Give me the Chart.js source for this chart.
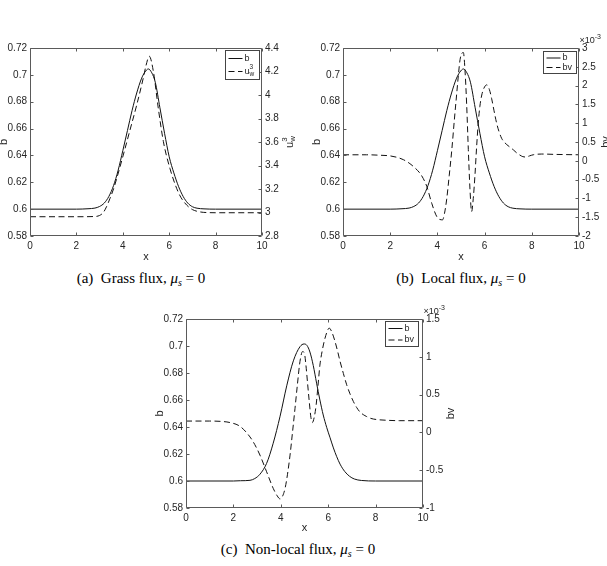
<!DOCTYPE html>
<html><head><meta charset="utf-8">
<script src="https://cdn.jsdelivr.net/npm/chart.js@4.4.1/dist/chart.umd.min.js"></script>
<style>
body{margin:0;width:607px;height:566px;background:#fff;position:relative;overflow:hidden}
canvas{position:absolute}
.cap{position:absolute;font-family:"Liberation Serif","Times New Roman",serif;font-size:15px;transform:translate(-50%,-50%);white-space:nowrap;color:#000}
.cap i{font-style:italic}
.cap sub{font-size:10px;vertical-align:-3px;line-height:0}
</style></head><body>
<canvas id="ca" width="303" height="236" style="left:-3px;top:28px;width:303px;height:236px"></canvas>
<canvas id="cb" width="297" height="236" style="left:310px;top:28px;width:297px;height:236px"></canvas>
<canvas id="cc" width="303" height="236" style="left:153px;top:299px;width:303px;height:236px"></canvas>
<div class="cap" style="left:141px;top:278px">(a)&nbsp; Grass flux, <i>μ<sub>s</sub></i> = 0</div>
<div class="cap" style="left:461px;top:278px">(b)&nbsp; Local flux, <i>μ<sub>s</sub></i> = 0</div>
<div class="cap" style="left:298px;top:549px">(c)&nbsp; Non-local flux, <i>μ<sub>s</sub></i> = 0</div>
<script>
// ---------- data ----------
// (a) Grass flux
const xA_b = [0,2,2.5,2.8,3.0,3.2,3.4,3.6,3.8,4.0,4.2,4.4,4.6,4.8,4.95,5.1,5.25,5.4,5.6,5.8,6.0,6.2,6.4,6.6,6.8,7.0,7.2,7.5,8,10];
const a_b  = [0.6,0.6,0.6003,0.6008,0.602,0.6045,0.6095,0.6175,0.629,0.6435,0.6585,0.6735,0.6865,0.697,0.702,0.7044,0.7015,0.6945,0.6755,0.6565,0.639,0.627,0.617,0.6095,0.6045,0.6018,0.6007,0.6002,0.6,0.6];
const xA_u = [0,2,2.8,3.0,3.16,3.3,3.45,3.6,3.74,4.02,4.31,4.6,4.88,5.0,5.14,5.32,5.53,5.75,6.03,6.32,6.5,6.75,7.0,7.33,7.7,8,10];
const a_u  = [2.964,2.964,2.966,2.975,3.0,3.05,3.121,3.2,3.291,3.489,3.702,3.915,4.142,4.25,4.33,4.198,3.887,3.603,3.376,3.206,3.13,3.064,3.025,3.005,2.999,2.998,2.998];
// (b) Local flux  (bv in units of 1e-3)
const xB_b = xA_b.slice();
const b_b  = [0.6,0.6,0.6003,0.6008,0.602,0.6045,0.6095,0.6175,0.629,0.6435,0.6585,0.6735,0.6865,0.697,0.702,0.7044,0.7015,0.6945,0.6755,0.6565,0.639,0.627,0.617,0.6095,0.6045,0.6018,0.6007,0.6002,0.6,0.6];
const xB_bv = [0,1,1.5,2.0,2.3,2.56,2.8,2.98,3.26,3.4,3.55,3.76,3.97,4.1,4.22,4.3,4.39,4.5,4.61,4.72,4.82,4.9,4.96,5.03,5.1,5.17,5.24,5.31,5.38,5.45,5.52,5.59,5.66,5.73,5.8,5.88,5.97,6.09,6.2,6.3,6.4,6.51,6.62,6.72,6.83,6.94,7.08,7.22,7.36,7.5,7.62,7.75,7.9,8.06,8.42,9,10];
const b_bv  = [0.16,0.16,0.15,0.13,0.09,0.03,-0.06,-0.15,-0.33,-0.47,-0.68,-1.13,-1.48,-1.56,-1.57,-1.4,-1.04,-0.4,0.29,1.1,1.8,2.35,2.69,2.85,2.88,2.4,1.5,0.3,-0.75,-1.35,-1.0,-0.4,0.35,1.0,1.45,1.75,1.93,2.02,1.9,1.65,1.33,1.0,0.76,0.6,0.5,0.43,0.36,0.29,0.21,0.15,0.11,0.1,0.13,0.16,0.18,0.17,0.16];
// (c) Non-local flux  (bv in units of 1e-3)
const xC_b = [0,2,2.3,2.7,2.9,3.12,3.4,3.68,3.97,4.25,4.53,4.81,4.98,5.1,5.23,5.37,5.51,5.65,5.79,5.94,6.08,6.22,6.36,6.5,6.7,6.9,7.1,7.4,8,10];
const c_b  = [0.6,0.6,0.6002,0.6005,0.6018,0.605,0.613,0.628,0.648,0.6705,0.689,0.6995,0.7015,0.7005,0.6955,0.6855,0.6725,0.66,0.6489,0.6395,0.632,0.6245,0.618,0.6125,0.607,0.6035,0.6015,0.6004,0.6,0.6];
const xC_bv = [0,1,1.5,1.86,2.28,2.7,2.9,3.12,3.4,3.68,3.85,3.97,4.08,4.18,4.28,4.39,4.5,4.6,4.7,4.81,4.92,5.0,5.06,5.13,5.2,5.27,5.33,5.41,5.49,5.57,5.65,5.76,5.86,5.95,6.04,6.15,6.29,6.4,6.5,6.64,6.78,6.92,7.06,7.2,7.34,7.48,7.62,7.8,8.05,8.5,9,10];
const c_bv  = [0.15,0.15,0.145,0.13,0.08,-0.06,-0.16,-0.3,-0.52,-0.74,-0.84,-0.88,-0.84,-0.74,-0.56,-0.3,0.02,0.32,0.63,0.94,1.07,1.04,0.89,0.65,0.41,0.2,0.13,0.2,0.36,0.62,0.89,1.1,1.24,1.33,1.38,1.33,1.2,1.07,0.94,0.78,0.63,0.51,0.41,0.33,0.27,0.235,0.21,0.185,0.17,0.16,0.155,0.155];
// axis ranges and tick steps
const xRange = [0, 10], xStep = 2;
const bRange = [0.58, 0.72], bStep = 0.02;
const uRange = [2.8, 4.4], uStep = 0.2;
const bvRangeB = [-2, 3], bvRangeC = [-1, 1.5], bvStep = 0.5;

// ---------- helpers ----------
const FONT = "'Liberation Sans', Arial, sans-serif";
const AX = '#262626';
Chart.defaults.font.family = FONT;
Chart.defaults.color = AX;

function pts(xs, ys){ return xs.map((x,i)=>({x:x, y:ys[i]})); }
function fmt(d){ return v => String(+(+v).toFixed(d)); }

function richWidth(ctx, groups){
  let w = 0;
  groups.forEach(g => { let m = 0; g.forEach(p => { ctx.font = p.s + 'px ' + FONT; m = Math.max(m, ctx.measureText(p.t).width); }); w += m; });
  return w;
}
function richDraw(ctx, groups, x, y){
  let cx = x;
  groups.forEach(g => { let m = 0; g.forEach(p => { ctx.font = p.s + 'px ' + FONT; ctx.fillText(p.t, cx, y + (p.dy||0)); m = Math.max(m, ctx.measureText(p.t).width); }); cx += m; });
}

const matlab = {
  id: 'matlab',
  afterDatasetsDraw(chart, args, o){
    const ctx = chart.ctx;
    const {left, right, top, bottom} = chart.chartArea;
    const L = Math.round(left)+0.5, R = Math.round(right)-0.5, T = Math.round(top)+0.5, B = Math.round(bottom)-0.5;
    ctx.save();
    ctx.strokeStyle = '#5a5a5a';
    ctx.lineWidth = 1;
    ctx.setLineDash([]);
    ctx.beginPath();
    ctx.rect(L, T, R-L, B-T);
    const tl = 3;
    chart.scales.x.ticks.forEach(t => {
      const p = Math.round(chart.scales.x.getPixelForValue(t.value))+0.5;
      ctx.moveTo(p, B); ctx.lineTo(p, B-tl);
      ctx.moveTo(p, T); ctx.lineTo(p, T+tl);
    });
    chart.scales.y.ticks.forEach(t => {
      const p = Math.round(chart.scales.y.getPixelForValue(t.value))+0.5;
      ctx.moveTo(L, p); ctx.lineTo(L+tl, p);
    });
    chart.scales.y1.ticks.forEach(t => {
      const p = Math.round(chart.scales.y1.getPixelForValue(t.value))+0.5;
      ctx.moveTo(R, p); ctx.lineTo(R-tl, p);
    });
    ctx.stroke();

    // legend
    const lg = o.legend;
    const bx = Math.round(right - lg.dr - lg.w) + 0.5, by = Math.round(top + lg.dt) + 0.5;
    ctx.fillStyle = '#fff';
    ctx.fillRect(bx, by, lg.w, lg.h);
    ctx.strokeStyle = '#444';
    ctx.strokeRect(bx, by, lg.w, lg.h);
    ctx.strokeStyle = '#111';
    chart.data.datasets.forEach((ds, i) => {
      const yy = by + lg.ys[i];
      ctx.setLineDash(ds.borderDash || []);
      ctx.beginPath(); ctx.moveTo(bx + 3, yy); ctx.lineTo(bx + 17, yy); ctx.stroke();
      ctx.setLineDash([]);
      ctx.fillStyle = AX;
      ctx.textAlign = 'left'; ctx.textBaseline = 'middle';
      richDraw(ctx, lg.labels[i], bx + 19, yy);
    });

    // right axis title (rotated, reading upward)
    ctx.fillStyle = AX;
    ctx.textAlign = 'left'; ctx.textBaseline = 'middle';
    ctx.save();
    ctx.translate(o.rtX, (top + bottom) / 2);
    ctx.rotate(-Math.PI/2);
    const w = richWidth(ctx, o.rtTitle);
    richDraw(ctx, o.rtTitle, -w/2, 0);
    ctx.restore();

    // exponent label
    if (o.expo) {
      richDraw(ctx, [[{t:'×10', s:9, dy:0}], [{t:'-3', s:7, dy:-4}]], right + 0.5, top - 7);
    }
    ctx.restore();
  }
};

function makeChart(id, cfg){
  const line = (label, xs, ys, axis, dash) => ({
    label: label, data: pts(xs, ys), yAxisID: axis,
    borderColor: '#111', borderWidth: 1, borderDash: dash,
    pointRadius: 0, fill: false, cubicInterpolationMode: 'monotone'
  });
  return new Chart(document.getElementById(id), {
    type: 'line',
    data: { datasets: [
      line('b', cfg.x1, cfg.y1, 'y', []),
      line(cfg.l2, cfg.x2, cfg.y2, 'y1', [6, 3.5])
    ]},
    options: {
      responsive: false, animation: false, events: [],
      layout: { padding: { top: 20, left: 0, right: 0, bottom: 0 } },
      plugins: { legend: { display: false }, tooltip: { enabled: false }, matlab: cfg.m },
      scales: {
        x: { type: 'linear', min: xRange[0], max: xRange[1],
             ticks: { stepSize: xStep, font: { size: 10 }, color: AX, padding: 4, maxRotation: 0, autoSkip: false, callback: fmt(0) },
             grid: { display: false, drawTicks: false }, border: { display: false },
             title: { display: true, text: 'x', font: { size: 11 }, color: AX, padding: 0 },
             afterFit: s => { s.height = cfg.xh; } },
        y: { position: 'left', min: bRange[0], max: bRange[1],
             ticks: { stepSize: bStep, font: { size: 10 }, color: AX, padding: 3, callback: fmt(2) },
             grid: { display: false, drawTicks: false }, border: { display: false },
             title: { display: true, text: 'b', font: { size: 11 }, color: AX, padding: 0 },
             afterFit: s => { s.width = 33; } },
        y1: { position: 'right', min: cfg.r[0], max: cfg.r[1],
             ticks: { stepSize: cfg.rs, font: { size: 10 }, color: AX, padding: 3, callback: fmt(1) },
             grid: { display: false, drawTicks: false }, border: { display: false },
             title: { display: false },
             afterFit: s => { s.width = cfg.rw; } }
      }
    },
    plugins: [matlab]
  });
}

const uwLabel = [[{t:'u', s:9, dy:0}], [{t:'3', s:6.5, dy:-4}, {t:'w', s:6.5, dy:3}]];
const uwTitle = [[{t:'u', s:11, dy:0}], [{t:'3', s:8, dy:-5}, {t:'w', s:8, dy:3}]];
const bLabel = [[{t:'b', s:9, dy:0}]];
const bvLabel = [[{t:'bv', s:9, dy:0}]];

makeChart('ca', { x1: xA_b, y1: a_b, x2: xA_u, y2: a_u, l2: 'u_w^3', r: uRange, rs: uStep, rw: 38, xh: 28,
  m: { legend: { w: 34, h: 29, dr: 3, dt: 2, ys: [8, 21], labels: [bLabel, uwLabel] }, rtTitle: uwTitle, rtX: 293, expo: false } });
makeChart('cb', { x1: xB_b, y1: b_b, x2: xB_bv, y2: b_bv, l2: 'bv', r: bvRangeB, rs: bvStep, rw: 28, xh: 28,
  m: { legend: { w: 33, h: 22, dr: 3, dt: 3, ys: [6.5, 16], labels: [bLabel, bvLabel] }, rtTitle: [[{t:'bv', s:11, dy:0}]], rtX: 296, expo: true } });
makeChart('cc', { x1: xC_b, y1: c_b, x2: xC_bv, y2: c_bv, l2: 'bv', r: bvRangeC, rs: bvStep, rw: 33, xh: 27,
  m: { legend: { w: 33, h: 25, dr: 5, dt: 2, ys: [7, 18.5], labels: [bLabel, bvLabel] }, rtTitle: [[{t:'bv', s:11, dy:0}]], rtX: 298, expo: true } });
</script>
</body></html>
